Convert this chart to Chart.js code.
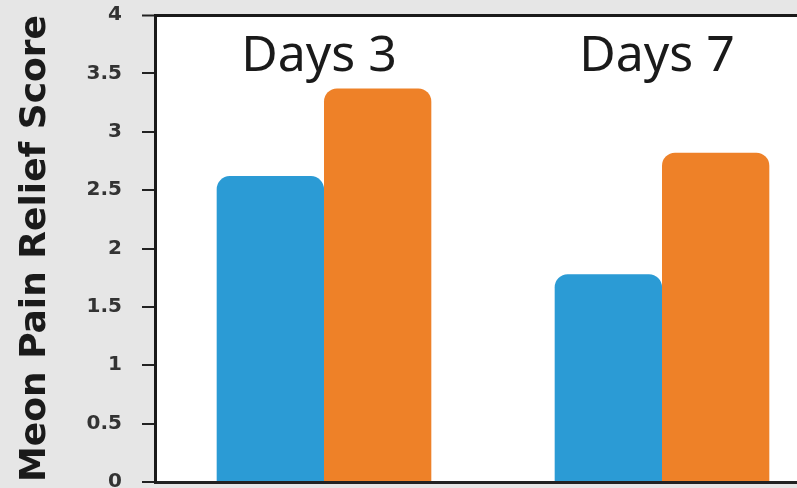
<!DOCTYPE html>
<html>
<head>
<meta charset="utf-8">
<script src="https://cdn.jsdelivr.net/npm/chart.js@4/dist/chart.umd.min.js"></script>
<style>
  html, body { margin: 0; padding: 0; overflow: hidden; background: #e6e6e6; }
  #wrap { width: 797px; height: 488px; overflow: hidden; }
</style>
</head>
<body>
<div id="wrap"><canvas id="chart" width="831" height="488"></canvas></div>
<script>
'use strict';

// categories and values
var categories = ['Days 3', 'Days 7'];
var seriesBlue = [2.62, 1.78];
var seriesOrange = [3.37, 2.82];
var yTicks = [0, 0.5, 1, 1.5, 2, 2.5, 3, 3.5, 4];

// gray page with white plot area
var backdrop = {
    id: 'backdrop',
    beforeDraw: function (chart) {
        var c = chart.ctx, a = chart.chartArea;
        c.save();
        c.fillStyle = '#e6e6e6';
        c.fillRect(0, 0, chart.width, chart.height);
        c.fillStyle = '#ffffff';
        c.fillRect(a.left, a.top, a.right - a.left, a.bottom - a.top);
        c.restore();
    }
};

// category names written inside the plot, above each group
var groupLabels = {
    id: 'groupLabels',
    afterDatasetsDraw: function (chart) {
        var c = chart.ctx, x = chart.scales.x;
        c.save();
        c.font = '50px "Noto Sans"';
        c.fillStyle = '#1a1a1a';
        c.textAlign = 'center';
        c.textBaseline = 'alphabetic';
        categories.forEach(function (name, i) {
            c.fillText(name, x.getPixelForValue(i) - 5, chart.chartArea.top + 56);
        });
        c.restore();
    }
};

var corner = { topLeft: 13, topRight: 13, bottomLeft: 0, bottomRight: 0 };

new Chart(document.getElementById('chart'), {
    type: 'bar',
    data: {
        labels: categories,
        datasets: [
            { label: 'Group A', data: seriesBlue, backgroundColor: '#2b9bd5', borderRadius: corner, borderSkipped: false },
            { label: 'Group B', data: seriesOrange, backgroundColor: '#ee8128', borderRadius: corner, borderSkipped: false }
        ]
    },
    options: {
        responsive: false,
        animation: false,
        layout: { padding: { top: 15, right: 0, bottom: 0, left: 0 } },
        datasets: { bar: { barPercentage: 1, categoryPercentage: 0.635 } },
        plugins: { legend: { display: false }, tooltip: { enabled: false } },
        scales: {
            x: {
                ticks: { display: false },
                grid: { display: false },
                border: { display: true, color: '#222', width: 3 },
                afterFit: function (scale) {
                    scale.height = 6;
                    scale.paddingLeft = 0; scale.paddingRight = 0;
                }
            },
            y: {
                min: 0,
                max: 4,
                afterBuildTicks: function (scale) {
                    scale.ticks = yTicks.map(function (v) { return { value: v }; });
                },
                afterFit: function (scale) {
                    scale.width = 155;
                    scale.paddingTop = 0; scale.paddingBottom = 0;
                },
                ticks: {
                    padding: 20,
                    color: '#333',
                    font: { family: '"DejaVu Sans"', weight: 'bold', size: 20 },
                    callback: function (v) { return String(v); }
                },
                grid: {
                    drawOnChartArea: true,
                    tickLength: 13,
                    color: function (ctx) { return ctx.tick && ctx.tick.value === 4 ? '#1a1a1a' : 'rgba(0,0,0,0)'; },
                    tickColor: '#222',
                    lineWidth: function (ctx) { return ctx.tick && ctx.tick.value === 4 ? 3 : 2; },
                    tickWidth: 2
                },
                border: { display: true, color: '#1a1a1a', width: 3 },
                title: {
                    display: true,
                    text: 'Meon Pain Relief Score',
                    color: '#1a1a1a',
                    font: { family: '"DejaVu Sans"', weight: 'bold', size: 36 },
                    padding: { top: 14, bottom: 0 }
                }
            }
        }
    },
    plugins: [backdrop, groupLabels]
});
</script>
</body>
</html>
